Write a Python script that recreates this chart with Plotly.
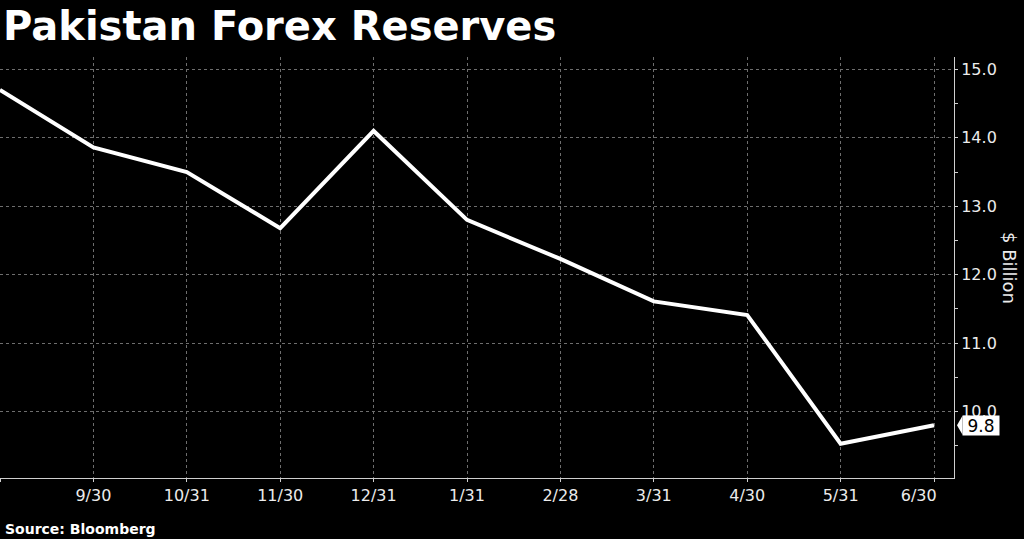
import plotly.graph_objects as go

# Data
dates = ["8/31", "9/30", "10/31", "11/30", "12/31", "1/31", "2/28", "3/31", "4/30", "5/31", "6/30"]
reserves = [14.70, 13.86, 13.50, 12.68, 14.10, 12.80, 12.23, 11.61, 11.41, 9.53, 9.80]
tick_labels = ["", "9/30", "10/31", "11/30", "12/31", "1/31", "2/28", "3/31", "4/30", "5/31",
               "6/30" + "\u00a0" * 6]
y_ticks = [10.0, 11.0, 12.0, 13.0, 14.0, 15.0]
title_text = "Pakistan Forex Reserves"
source_text = "Source: Bloomberg"
axis_title = "$ Billion"

W, H = 1024, 539
ML, MR, MT, MB = 0, 70, 57, 61
plot_h = H - MT - MB
plot_w = W - ML - MR
y_range = [9.03, 15.18]

TXT = "#ececec"
GRID = "#6e6e6e"
AXIS = "#cfcfcf"
FONT = "DejaVu Sans"

fig = go.Figure()
fig.add_trace(go.Scatter(
    x=dates, y=reserves, mode="lines",
    line=dict(color="#ffffff", width=4),
    hoverinfo="skip", showlegend=False,
))

fig.update_layout(
    width=W, height=H,
    margin=dict(l=ML, r=MR, t=MT, b=MB),
    paper_bgcolor="#000000", plot_bgcolor="#000000",
    font=dict(family=FONT, color=TXT, size=16),
    title=dict(
        text=f"<b>{title_text}</b>",
        font=dict(family=FONT, size=40, color="#ffffff"),
        x=0.003, xref="container", xanchor="left",
        y=0.977, yref="container", yanchor="top",
    ),
    showlegend=False,
)

fig.update_xaxes(
    type="category",
    range=[0, 10.214],
    tickmode="array", tickvals=dates, ticktext=tick_labels,
    showgrid=True, gridcolor=GRID, griddash="dot", gridwidth=1,
    showline=True, linecolor=AXIS, linewidth=1,
    ticks="outside", ticklen=3, tickcolor=AXIS,
    tickfont=dict(family=FONT, size=16, color=TXT),
    zeroline=False, fixedrange=True,
)

fig.update_yaxes(
    side="right",
    range=y_range,
    tickmode="array", tickvals=y_ticks,
    tickformat=".1f",
    showgrid=True, gridcolor=GRID, griddash="dot", gridwidth=1,
    showline=True, linecolor=AXIS, linewidth=1,
    ticks="outside", ticklen=3, tickcolor=AXIS,
    tickfont=dict(family=FONT, size=16, color=TXT),
    minor=dict(dtick=0.5, tick0=0, ticks="outside", ticklen=3, tickcolor=AXIS, showgrid=False),
    zeroline=False, fixedrange=True,
)

# Right-hand axis title (reads top to bottom)
fig.add_annotation(
    text=axis_title, textangle=90,
    xref="paper", yref="paper", x=1010 / plot_w, y=(H - MB - 268) / plot_h,
    xanchor="center", yanchor="middle", showarrow=False,
    font=dict(family=FONT, size=18, color=TXT),
)

# Source line
fig.add_annotation(
    text=f"<b>{source_text}</b>",
    xref="paper", yref="paper", x=3 / plot_w, y=(H - MB - 529) / plot_h,
    xanchor="left", yanchor="middle", showarrow=False,
    font=dict(family=FONT, size=14, color="#ffffff"),
)

# Last-value label
last = reserves[-1]
fig.add_annotation(
    text=f"{last:.1f}",
    xref="paper", yref="y", x=1, y=last,
    xshift=8, xanchor="left", yanchor="middle", showarrow=False,
    bgcolor="#ffffff", borderpad=0, width=36, height=19,
    font=dict(family=FONT, size=17, color="#000000"),
)
# small pointer on the label
unit_px = plot_h / (y_range[1] - y_range[0])
half = 9.5 / unit_px
x_tip = 1 + 3 / plot_w
x_box = 1 + 8.5 / plot_w
fig.add_shape(
    type="path", xref="paper", yref="y",
    path=f"M {x_tip} {last} L {x_box} {last + half} L {x_box} {last - half} Z",
    fillcolor="#ffffff", line=dict(width=0),
)

fig.write_html(
    "out.html",
    config={"displayModeBar": False},
    post_script="document.body.style.margin='0';document.body.style.background='#000';",
)
